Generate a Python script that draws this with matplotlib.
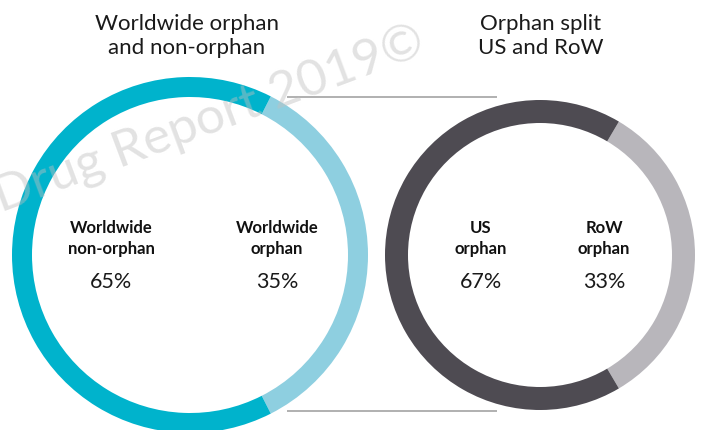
import matplotlib
matplotlib.use("Agg")
import matplotlib.pyplot as plt

# ---- data ----
left_labels = ["Worldwide\norphan", "Worldwide\nnon-orphan"]
left_values = [35, 65]
right_labels = ["RoW\norphan", "US\norphan"]
right_values = [33, 67]
left_title = "Worldwide orphan\nand non-orphan"
right_title = "Orphan split\nUS and RoW"
watermark = "Drug Report 2019\u00a9"

left_colors = ["#8ecfe0", "#00b3cc"]
right_colors = ["#b8b6bb", "#4e4b52"]

W, H = 702, 431
fig = plt.figure(figsize=(W / 100, H / 100), dpi=100)
ax = fig.add_axes([0, 0, 1, 1])

FONT = "Lato"

def Y(y):
    return H - y

def ring(values, colors, cx, cy, r, w):
    small = values[0] / sum(values) * 360.0
    ax.pie(values, colors=colors, startangle=-small / 2, counterclock=True,
           center=(cx, Y(cy)), radius=r,
           wedgeprops=dict(width=w, linewidth=0, edgecolor="none"), frame=False)

ring(left_values, left_colors, 190, 256, 178, 20)
ring(right_values, right_colors, 540, 256, 155, 23)

# watermark (on top, semi-transparent)
ax.text(1, Y(212), watermark, rotation=20.5, rotation_mode="anchor",
        fontsize=37, color="#c0c0c0", alpha=0.45, family=FONT,
        ha="left", va="baseline", zorder=10)

# connector lines
ax.plot([287, 497], [Y(97.5), Y(97.5)], color="#aaaaaa", lw=1.3, solid_capstyle="butt")
ax.plot([287, 497], [Y(411.5), Y(411.5)], color="#aaaaaa", lw=1.3, solid_capstyle="butt")

# titles
ax.text(187, Y(36), left_title, ha="center", va="center", fontsize=16,
        family=FONT, color="#1a1a1a", linespacing=1.25)
ax.text(541, Y(36), right_title, ha="center", va="center", fontsize=16,
        family=FONT, color="#1a1a1a", linespacing=1.25)

def label(x, txt, val):
    ax.text(x, Y(238.5), txt, ha="center", va="center", fontsize=12,
            family=FONT, weight="bold", color="#111111", linespacing=1.4)
    ax.text(x, Y(282), f"{val}%", ha="center", va="center", fontsize=15.5,
            family=FONT, color="#1a1a1a")

label(111, left_labels[1], left_values[1])
label(277, left_labels[0], left_values[0])
label(481, right_labels[1], right_values[1])
label(604, right_labels[0], right_values[0])

ax.set_xlim(0, W)
ax.set_ylim(0, H)
ax.set_aspect("auto")
ax.axis("off")
fig.savefig("out.png", dpi=100)
